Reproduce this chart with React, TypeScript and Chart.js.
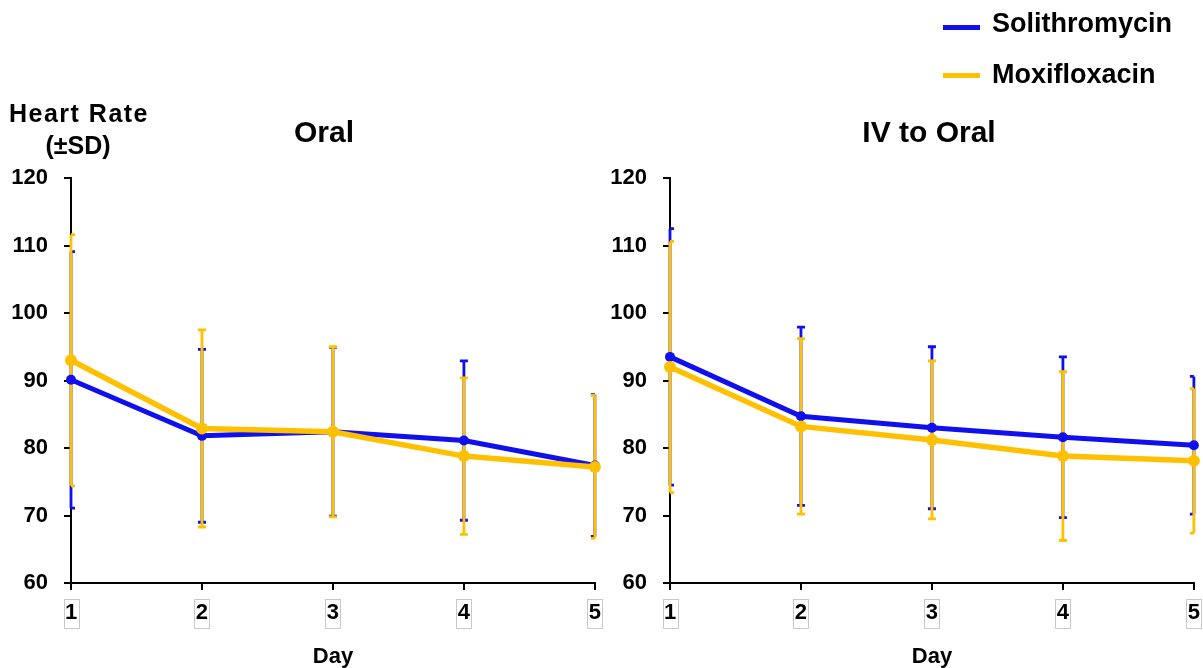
import React, { useEffect, useRef } from 'react';
import { Chart, registerables } from 'chart.js';

Chart.register(...registerables);

// ---------- data ----------
const days = ['1', '2', '3', '4', '5'];
const yTicks = [60, 70, 80, 90, 100, 110, 120];

const oralSoliMean = [90.1, 81.8, 82.4, 81.1, 77.4];
const oralSoliSD = [19.0, 12.8, 12.5, 11.8, 10.5];
const oralMoxiMean = [93.0, 82.9, 82.4, 78.8, 77.2];
const oralMoxiSD = [18.6, 14.6, 12.6, 11.6, 10.6];

const ivSoliMean = [93.5, 84.7, 83.0, 81.6, 80.4];
const ivSoliSD = [19.0, 13.2, 12.0, 11.9, 10.2];
const ivMoxiMean = [92.0, 83.2, 81.2, 78.8, 78.1];
const ivMoxiSD = [18.6, 13.0, 11.7, 12.5, 10.7];

const seriesNames = ['Solithromycin', 'Moxifloxacin'];
const panelTitles = ['Oral', 'IV to Oral'];
const yTitle = ['Heart Rate', '(±SD)'];
const xTitle = 'Day';

// ---------- style ----------
const FONT = '"Liberation Sans", Arial, Helvetica, sans-serif';
const BLUE = '#1010EE';
const GOLD = '#FFC000';

const errorBarPlugin = {
  id: 'errorBars',
  beforeDatasetsDraw(chart: any) {
    const { ctx, chartArea } = chart;
    const xs = chart.scales.x;
    const ys = chart.scales.y;
    const cap = 4;
    chart.data.datasets.forEach((ds: any) => {
      ctx.save();
      ctx.strokeStyle = ds.borderColor;
      ctx.lineWidth = 2.8;
      ds.data.forEach((v: number, i: number) => {
        const sd = ds.sd[i];
        const px = xs.getPixelForValue(i);
        const top = ys.getPixelForValue(v + sd);
        const bot = ys.getPixelForValue(v - sd);
        ctx.beginPath();
        ctx.moveTo(px, top);
        ctx.lineTo(px, bot);
        const l = Math.max(px - cap, chartArea.left);
        const r = Math.min(px + cap, chartArea.right);
        ctx.moveTo(l, top);
        ctx.lineTo(r, top);
        ctx.moveTo(l, bot);
        ctx.lineTo(r, bot);
        ctx.stroke();
      });
      ctx.restore();
    });
  },
};

const tickBoxPlugin = {
  id: 'tickBoxes',
  afterDraw(chart: any) {
    const xs = chart.scales.x;
    const ctx = chart.ctx;
    ctx.save();
    ctx.font = `bold 22px ${FONT}`;
    ctx.strokeStyle = '#c8c8c8';
    ctx.lineWidth = 1;
    xs.ticks.forEach((t: any, i: number) => {
      const label = String(xs.getLabelForValue(t.value));
      const px = xs.getPixelForTick(i);
      const w = Math.round(ctx.measureText(label).width + 3);
      const top = chart.chartArea.bottom + 16;
      ctx.strokeRect(Math.round(px - w / 2) + 0.5, top + 0.5, w, 29);
    });
    ctx.restore();
  },
};

type PanelProps = {
  left: number;
  width: number;
  yWidth: number;
  padRight: number;
  soliMean: number[];
  soliSD: number[];
  moxiMean: number[];
  moxiSD: number[];
};

function Panel(p: PanelProps) {
  const ref = useRef<HTMLCanvasElement>(null);
  useEffect(() => {
    if (!ref.current) return;
    const tickFont = { family: FONT, size: 22, weight: 'bold' as const, lineHeight: 1.2 };
    const chart = new Chart(ref.current, {
      type: 'line',
      data: {
        labels: days,
        datasets: [
          {
            label: seriesNames[0],
            data: p.soliMean,
            sd: p.soliSD,
            borderColor: BLUE,
            backgroundColor: BLUE,
            borderWidth: 5,
            pointRadius: 5,
            pointBorderWidth: 0,
            pointBackgroundColor: BLUE,
            order: 1,
            clip: false,
          } as any,
          {
            label: seriesNames[1],
            data: p.moxiMean,
            sd: p.moxiSD,
            borderColor: GOLD,
            backgroundColor: GOLD,
            borderWidth: 5.5,
            pointRadius: 6,
            pointBorderWidth: 0,
            pointBackgroundColor: GOLD,
            order: 0,
            clip: false,
          } as any,
        ],
      },
      options: {
        responsive: false,
        animation: false,
        devicePixelRatio: 1,
        events: [],
        layout: { padding: { top: 178, left: 0, right: p.padRight, bottom: 0 } },
        plugins: {
          legend: { display: false },
          title: { display: false },
          tooltip: { enabled: false },
        },
        scales: {
          x: {
            type: 'category',
            offset: false,
            grid: {
              display: true,
              drawOnChartArea: false,
              drawTicks: true,
              tickLength: 7,
              color: '#000',
              lineWidth: 2,
            },
            border: { display: true, color: '#000', width: 2 },
            ticks: { color: '#000', font: tickFont, padding: 10, maxRotation: 0 },
            title: {
              display: true,
              text: xTitle,
              color: '#000',
              font: { family: FONT, size: 22, weight: 'bold', lineHeight: 1 },
              padding: { top: 0, bottom: 0 },
            },
            afterFit(scale: any) {
              scale.height = 85;
            },
          },
          y: {
            type: 'linear',
            min: yTicks[0],
            max: yTicks[yTicks.length - 1],
            afterBuildTicks(scale: any) {
              scale.ticks = yTicks.map((v) => ({ value: v }));
            },
            grid: {
              display: true,
              drawOnChartArea: false,
              drawTicks: true,
              tickLength: 7,
              color: '#000',
              lineWidth: 2,
            },
            border: { display: true, color: '#000', width: 2 },
            ticks: { color: '#000', font: tickFont, padding: 16 },
            afterFit(scale: any) {
              scale.width = p.yWidth;
            },
          },
        },
      } as any,
      plugins: [errorBarPlugin, tickBoxPlugin],
    });
    return () => chart.destroy();
  }, []);
  return (
    <canvas
      ref={ref}
      width={p.width}
      height={668}
      style={{ position: 'absolute', left: p.left, top: 0, width: p.width, height: 668 }}
    />
  );
}

const textBase: React.CSSProperties = {
  position: 'absolute',
  fontFamily: FONT,
  fontWeight: 'bold',
  color: '#000',
  whiteSpace: 'nowrap',
};

export default function App() {
  return (
    <div
      style={{
        position: 'fixed',
        left: 0,
        top: 0,
        width: 1203,
        height: 668,
        background: '#fff',
        overflow: 'hidden',
      }}
    >
      <Panel
        left={0}
        width={611}
        yWidth={71}
        padRight={16}
        soliMean={oralSoliMean}
        soliSD={oralSoliSD}
        moxiMean={oralMoxiMean}
        moxiSD={oralMoxiSD}
      />
      <Panel
        left={600}
        width={610}
        yWidth={70}
        padRight={16}
        soliMean={ivSoliMean}
        soliSD={ivSoliSD}
        moxiMean={ivMoxiMean}
        moxiSD={ivMoxiSD}
      />
      {/* y-axis heading */}
      <div
        style={{
          ...textBase,
          left: -1,
          width: 160,
          top: 101,
          fontSize: 25,
          lineHeight: '25px',
          letterSpacing: 1.5,
          textAlign: 'center',
        }}
      >
        {yTitle[0]}
      </div>
      <div
        style={{
          ...textBase,
          left: -2,
          width: 160,
          top: 133,
          fontSize: 25,
          lineHeight: '25px',
          textAlign: 'center',
        }}
      >
        {yTitle[1]}
      </div>
      {/* panel titles */}
      <div
        style={{
          ...textBase,
          left: 224,
          width: 200,
          top: 117,
          fontSize: 30,
          lineHeight: '30px',
          textAlign: 'center',
        }}
      >
        {panelTitles[0]}
      </div>
      <div
        style={{
          ...textBase,
          left: 829,
          width: 200,
          top: 117,
          fontSize: 30,
          lineHeight: '30px',
          textAlign: 'center',
        }}
      >
        {panelTitles[1]}
      </div>
      {/* legend */}
      <div style={{ position: 'absolute', left: 943, top: 25, width: 37, height: 5, background: BLUE }} />
      <div style={{ position: 'absolute', left: 943, top: 73, width: 37, height: 5, background: GOLD }} />
      <div style={{ ...textBase, left: 992, top: 10, fontSize: 27, lineHeight: '27px' }}>{seriesNames[0]}</div>
      <div style={{ ...textBase, left: 992, top: 61, fontSize: 27, lineHeight: '27px' }}>{seriesNames[1]}</div>
    </div>
  );
}
